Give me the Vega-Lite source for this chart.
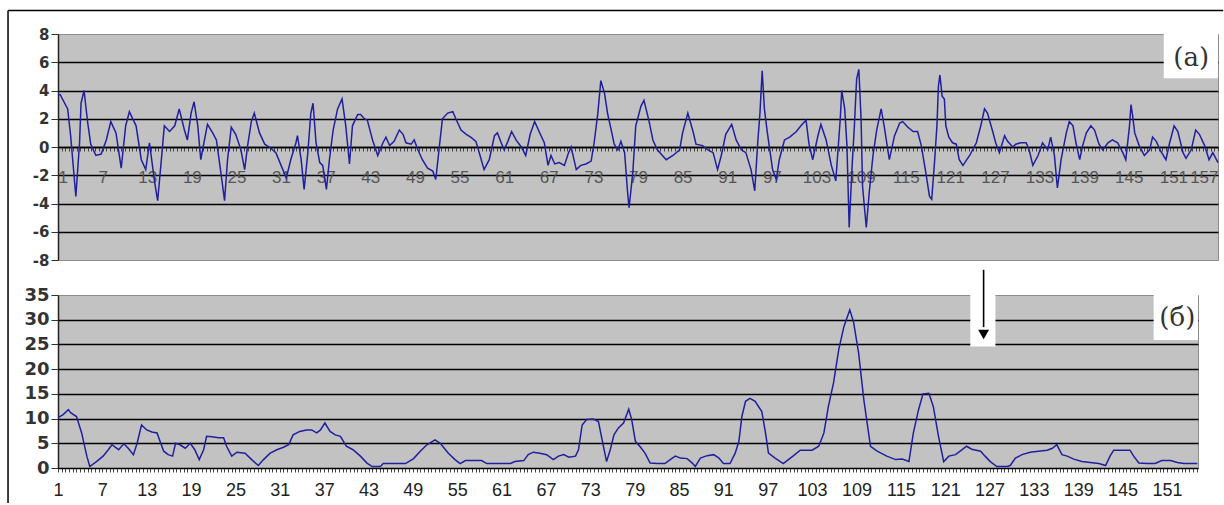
{
"$schema":"https://vega.github.io/schema/vega-lite/v6.json",
"padding":{"left":6,"top":9,"right":0,"bottom":0},
"background":"white",
"spacing":35,
"bounds":"flush",
"config":{"view":{"fill":"#c2c2c2","stroke":"#8c8c8c","strokeWidth":1}},
"datasets":{
"top":[{"x":1,"v":3.7},{"x":1.3,"v":3.7},{"x":2.3,"v":2.7},{"x":2.7,"v":0.8},{"x":3.4,"v":-3.5},{"x":3.9,"v":0.3},{"x":4.1,"v":3.1},{"x":4.5,"v":4.0},{"x":5.0,"v":1.7},{"x":5.4,"v":0.2},{"x":6.1,"v":-0.6},{"x":6.8,"v":-0.5},{"x":7.5,"v":0.5},{"x":8.1,"v":1.8},{"x":8.8,"v":1.0},{"x":9.5,"v":-1.5},{"x":10.1,"v":1.5},{"x":10.6,"v":2.5},{"x":11.5,"v":1.5},{"x":12.2,"v":-0.9},{"x":12.8,"v":-1.6},{"x":13.3,"v":0.3},{"x":14.0,"v":-2.5},{"x":14.4,"v":-3.8},{"x":14.9,"v":-0.9},{"x":15.3,"v":1.5},{"x":16.0,"v":1.1},{"x":16.7,"v":1.5},{"x":17.3,"v":2.7},{"x":18.0,"v":1.2},{"x":18.4,"v":0.5},{"x":18.9,"v":2.4},{"x":19.3,"v":3.2},{"x":19.8,"v":1.5},{"x":20.2,"v":-0.9},{"x":20.7,"v":0.5},{"x":21.1,"v":1.6},{"x":21.8,"v":1.0},{"x":22.3,"v":0.5},{"x":22.9,"v":-1.8},{"x":23.4,"v":-3.8},{"x":23.8,"v":-0.9},{"x":24.3,"v":1.4},{"x":24.9,"v":0.9},{"x":25.6,"v":-0.2},{"x":26.1,"v":-1.6},{"x":26.5,"v":0.1},{"x":27.0,"v":1.8},{"x":27.4,"v":2.4},{"x":28.1,"v":1.0},{"x":28.8,"v":0.2},{"x":29.4,"v":0.0},{"x":30.3,"v":-0.4},{"x":31.0,"v":-1.3},{"x":31.7,"v":-2.2},{"x":32.3,"v":-0.9},{"x":33.0,"v":0.3},{"x":33.2,"v":0.8},{"x":33.7,"v":-0.9},{"x":34.1,"v":-3.0},{"x":34.6,"v":-0.4},{"x":35.0,"v":2.4},{"x":35.3,"v":3.1},{"x":35.7,"v":0.3},{"x":36.2,"v":-1.1},{"x":36.6,"v":-1.3},{"x":37.1,"v":-3.0},{"x":37.5,"v":-0.9},{"x":38.0,"v":1.2},{"x":38.6,"v":2.7},{"x":39.2,"v":3.4},{"x":39.7,"v":1.5},{"x":40.2,"v":-1.2},{"x":40.6,"v":1.5},{"x":41.3,"v":2.3},{"x":41.7,"v":2.3},{"x":42.2,"v":2.0},{"x":42.6,"v":1.9},{"x":43.3,"v":0.5},{"x":44.0,"v":-0.6},{"x":44.7,"v":0.3},{"x":45.1,"v":0.7},{"x":45.6,"v":0.1},{"x":46.2,"v":0.4},{"x":46.9,"v":1.2},{"x":47.4,"v":0.9},{"x":47.8,"v":0.3},{"x":48.5,"v":0.2},{"x":48.9,"v":0.5},{"x":49.4,"v":-0.2},{"x":50.0,"v":-0.9},{"x":50.7,"v":-1.5},{"x":51.4,"v":-1.7},{"x":51.8,"v":-2.3},{"x":52.3,"v":0.1},{"x":52.7,"v":2.0},{"x":53.4,"v":2.4},{"x":54.1,"v":2.5},{"x":54.5,"v":2.0},{"x":55.2,"v":1.2},{"x":55.9,"v":0.9},{"x":56.5,"v":0.7},{"x":57.2,"v":0.4},{"x":57.7,"v":-0.5},{"x":58.3,"v":-1.6},{"x":59.0,"v":-0.9},{"x":59.7,"v":0.8},{"x":60.1,"v":1.0},{"x":60.6,"v":0.3},{"x":61.0,"v":-0.2},{"x":61.5,"v":0.4},{"x":62.0,"v":1.1},{"x":62.6,"v":0.5},{"x":63.3,"v":0.0},{"x":63.9,"v":-0.6},{"x":64.5,"v":0.9},{"x":65.1,"v":1.8},{"x":65.7,"v":1.1},{"x":66.4,"v":0.3},{"x":66.9,"v":-1.3},{"x":67.3,"v":-0.6},{"x":67.8,"v":-1.2},{"x":68.4,"v":-1.1},{"x":69.1,"v":-1.3},{"x":69.6,"v":-0.5},{"x":70.0,"v":0.0},{"x":70.7,"v":-1.6},{"x":71.3,"v":-1.3},{"x":72.0,"v":-1.2},{"x":72.7,"v":-1.0},{"x":73.1,"v":0.3},{"x":73.6,"v":2.4},{"x":74.0,"v":4.7},{"x":74.5,"v":3.8},{"x":74.9,"v":2.4},{"x":75.4,"v":1.2},{"x":75.8,"v":0.2},{"x":76.3,"v":-0.2},{"x":76.7,"v":0.4},{"x":77.2,"v":-0.4},{"x":77.6,"v":-3.2},{"x":77.8,"v":-4.3},{"x":78.3,"v":-1.8},{"x":78.7,"v":1.5},{"x":79.4,"v":2.9},{"x":79.8,"v":3.3},{"x":80.5,"v":1.8},{"x":81.0,"v":0.5},{"x":81.6,"v":-0.2},{"x":82.8,"v":-0.9},{"x":83.7,"v":-0.6},{"x":84.6,"v":-0.2},{"x":85.0,"v":1.0},{"x":85.7,"v":2.4},{"x":86.4,"v":1.1},{"x":86.8,"v":0.2},{"x":87.7,"v":0.1},{"x":88.4,"v":-0.2},{"x":89.1,"v":-0.4},{"x":89.7,"v":-1.6},{"x":90.2,"v":-0.6},{"x":90.8,"v":0.9},{"x":91.6,"v":1.6},{"x":92.2,"v":0.5},{"x":92.9,"v":-0.2},{"x":93.5,"v":-0.4},{"x":94.2,"v":-1.6},{"x":94.7,"v":-3.1},{"x":95.1,"v":0.3},{"x":95.4,"v":2.4},{"x":95.7,"v":5.4},{"x":96.0,"v":2.7},{"x":96.4,"v":1.0},{"x":97.1,"v":-1.6},{"x":97.6,"v":-2.3},{"x":98.0,"v":-0.9},{"x":98.7,"v":0.5},{"x":99.4,"v":0.7},{"x":100.3,"v":1.1},{"x":100.9,"v":1.5},{"x":101.6,"v":1.9},{"x":102.0,"v":0.2},{"x":102.5,"v":-0.9},{"x":103.2,"v":0.8},{"x":103.6,"v":1.6},{"x":104.3,"v":0.5},{"x":105.0,"v":-1.3},{"x":105.6,"v":-2.4},{"x":106.2,"v":2.0},{"x":106.4,"v":4.0},{"x":106.8,"v":2.7},{"x":107.1,"v":0.1},{"x":107.4,"v":-5.7},{"x":107.8,"v":-1.3},{"x":108.1,"v":1.5},{"x":108.4,"v":4.8},{"x":108.7,"v":5.5},{"x":109.0,"v":2.0},{"x":109.2,"v":-2.8},{"x":109.7,"v":-5.7},{"x":110.1,"v":-3.2},{"x":110.6,"v":-0.6},{"x":111.1,"v":1.2},{"x":111.7,"v":2.7},{"x":112.1,"v":1.5},{"x":112.8,"v":-0.9},{"x":113.5,"v":0.8},{"x":114.2,"v":1.7},{"x":114.6,"v":1.8},{"x":115.3,"v":1.4},{"x":116.0,"v":1.1},{"x":116.6,"v":1.1},{"x":117.1,"v":0.1},{"x":117.7,"v":-1.8},{"x":118.2,"v":-3.5},{"x":118.5,"v":-3.7},{"x":118.9,"v":-0.9},{"x":119.2,"v":1.5},{"x":119.4,"v":4.3},{"x":119.6,"v":5.1},{"x":119.9,"v":3.6},{"x":120.2,"v":3.4},{"x":120.4,"v":1.5},{"x":120.8,"v":0.7},{"x":121.3,"v":0.3},{"x":121.8,"v":0.2},{"x":122.2,"v":-0.9},{"x":122.7,"v":-1.3},{"x":123.6,"v":-0.6},{"x":124.5,"v":0.3},{"x":125.1,"v":1.5},{"x":125.6,"v":2.7},{"x":126.0,"v":2.4},{"x":126.7,"v":1.1},{"x":127.1,"v":0.3},{"x":127.6,"v":-0.4},{"x":128.3,"v":0.8},{"x":128.7,"v":0.4},{"x":129.4,"v":0.0},{"x":129.8,"v":0.2},{"x":130.5,"v":0.3},{"x":131.2,"v":0.3},{"x":131.6,"v":-0.2},{"x":132.1,"v":-1.3},{"x":132.8,"v":-0.6},{"x":133.4,"v":0.3},{"x":134.1,"v":-0.2},{"x":134.5,"v":0.7},{"x":135.0,"v":-0.6},{"x":135.4,"v":-2.9},{"x":135.9,"v":-0.9},{"x":136.6,"v":1.0},{"x":137.0,"v":1.8},{"x":137.5,"v":1.5},{"x":137.9,"v":0.3},{"x":138.4,"v":-0.9},{"x":138.8,"v":0.1},{"x":139.3,"v":1.0},{"x":139.9,"v":1.5},{"x":140.4,"v":1.2},{"x":141.0,"v":0.2},{"x":141.5,"v":-0.2},{"x":142.2,"v":0.3},{"x":142.8,"v":0.5},{"x":143.5,"v":0.3},{"x":144.2,"v":-0.4},{"x":144.6,"v":-0.9},{"x":145.1,"v":1.5},{"x":145.3,"v":3.0},{"x":145.5,"v":2.3},{"x":145.8,"v":1.0},{"x":146.4,"v":0.1},{"x":147.1,"v":-0.6},{"x":147.8,"v":-0.2},{"x":148.2,"v":0.7},{"x":148.7,"v":0.4},{"x":149.3,"v":-0.3},{"x":150.0,"v":-0.9},{"x":150.5,"v":0.3},{"x":151.1,"v":1.5},{"x":151.6,"v":1.1},{"x":152.3,"v":-0.4},{"x":152.7,"v":-0.8},{"x":153.4,"v":-0.2},{"x":154.0,"v":1.2},{"x":154.5,"v":0.9},{"x":155.2,"v":0.1},{"x":155.8,"v":-0.9},{"x":156.3,"v":-0.4},{"x":157.0,"v":-1.1}],
"bot":[{"x":1,"v":10.2},{"x":1.7,"v":10.8},{"x":2.4,"v":11.8},{"x":2.7,"v":11.2},{"x":3.5,"v":10.4},{"x":4.2,"v":7.1},{"x":4.9,"v":2.4},{"x":5.3,"v":0.3},{"x":6.2,"v":1.3},{"x":7.1,"v":2.4},{"x":7.8,"v":3.7},{"x":8.3,"v":4.7},{"x":9.2,"v":3.7},{"x":9.9,"v":4.9},{"x":10.5,"v":4.0},{"x":11.2,"v":2.7},{"x":11.7,"v":5.0},{"x":12.3,"v":8.7},{"x":13.0,"v":7.7},{"x":13.7,"v":7.3},{"x":14.4,"v":7.1},{"x":14.8,"v":5.4},{"x":15.3,"v":3.4},{"x":15.9,"v":2.7},{"x":16.5,"v":2.4},{"x":16.9,"v":5.0},{"x":17.5,"v":4.7},{"x":18.2,"v":4.0},{"x":18.9,"v":5.0},{"x":19.5,"v":3.7},{"x":20.1,"v":1.7},{"x":20.7,"v":3.7},{"x":21.1,"v":6.4},{"x":21.8,"v":6.3},{"x":22.7,"v":6.1},{"x":23.4,"v":6.1},{"x":23.8,"v":4.4},{"x":24.5,"v":2.4},{"x":25.2,"v":3.2},{"x":26.3,"v":3.0},{"x":27.2,"v":1.7},{"x":28.1,"v":0.5},{"x":28.8,"v":1.7},{"x":29.7,"v":3.0},{"x":30.6,"v":3.7},{"x":31.5,"v":4.2},{"x":32.2,"v":4.7},{"x":32.8,"v":6.7},{"x":33.7,"v":7.4},{"x":34.6,"v":7.7},{"x":35.3,"v":7.7},{"x":36.0,"v":7.1},{"x":36.5,"v":7.7},{"x":37.1,"v":9.1},{"x":37.8,"v":7.4},{"x":38.5,"v":6.7},{"x":39.2,"v":6.4},{"x":40.0,"v":4.4},{"x":40.9,"v":3.7},{"x":41.9,"v":2.4},{"x":42.8,"v":1.0},{"x":43.5,"v":0.3},{"x":44.6,"v":0.3},{"x":45.0,"v":0.9},{"x":46.2,"v":0.9},{"x":48.0,"v":0.9},{"x":49.1,"v":1.9},{"x":50.0,"v":3.4},{"x":50.9,"v":4.7},{"x":52.0,"v":5.7},{"x":52.7,"v":5.0},{"x":53.8,"v":3.0},{"x":54.7,"v":1.7},{"x":55.4,"v":0.9},{"x":56.1,"v":1.5},{"x":57.2,"v":1.5},{"x":58.3,"v":1.5},{"x":59.0,"v":0.9},{"x":60.4,"v":0.9},{"x":62.2,"v":0.9},{"x":62.8,"v":1.3},{"x":64.0,"v":1.5},{"x":64.6,"v":2.7},{"x":65.3,"v":3.2},{"x":66.2,"v":3.0},{"x":67.1,"v":2.7},{"x":68.0,"v":1.7},{"x":68.7,"v":2.4},{"x":69.4,"v":2.7},{"x":70.1,"v":2.2},{"x":71.0,"v":2.4},{"x":71.4,"v":3.7},{"x":71.9,"v":8.7},{"x":72.5,"v":9.8},{"x":73.4,"v":9.9},{"x":74.1,"v":9.4},{"x":74.6,"v":5.7},{"x":75.2,"v":1.3},{"x":75.7,"v":3.7},{"x":76.2,"v":6.7},{"x":76.8,"v":8.1},{"x":77.5,"v":9.1},{"x":78.2,"v":11.9},{"x":78.6,"v":9.8},{"x":79.1,"v":5.4},{"x":79.8,"v":4.2},{"x":80.4,"v":3.0},{"x":81.1,"v":1.0},{"x":82.0,"v":0.9},{"x":83.1,"v":0.9},{"x":83.8,"v":1.7},{"x":84.5,"v":2.4},{"x":85.2,"v":2.0},{"x":86.1,"v":1.9},{"x":86.8,"v":1.0},{"x":87.2,"v":0.3},{"x":87.9,"v":2.0},{"x":88.8,"v":2.5},{"x":89.7,"v":2.7},{"x":90.4,"v":2.0},{"x":91.0,"v":0.9},{"x":91.9,"v":0.9},{"x":92.6,"v":3.0},{"x":93.1,"v":5.4},{"x":93.5,"v":10.4},{"x":94.0,"v":13.5},{"x":94.6,"v":14.1},{"x":95.3,"v":13.5},{"x":96.2,"v":11.4},{"x":96.7,"v":7.1},{"x":97.1,"v":3.0},{"x":98.0,"v":2.0},{"x":99.1,"v":0.9},{"x":99.8,"v":1.7},{"x":100.5,"v":2.5},{"x":101.4,"v":3.6},{"x":103.0,"v":3.6},{"x":103.9,"v":4.4},{"x":104.6,"v":7.1},{"x":105.2,"v":12.4},{"x":105.9,"v":17.2},{"x":106.6,"v":23.9},{"x":107.3,"v":28.6},{"x":108.1,"v":32.0},{"x":108.6,"v":29.6},{"x":109.3,"v":23.2},{"x":110.0,"v":13.8},{"x":110.9,"v":4.4},{"x":111.8,"v":3.4},{"x":113.1,"v":2.4},{"x":114.3,"v":1.7},{"x":115.2,"v":1.8},{"x":116.1,"v":1.3},{"x":116.7,"v":7.1},{"x":117.4,"v":11.8},{"x":118.0,"v":15.0},{"x":118.8,"v":15.1},{"x":119.4,"v":12.4},{"x":120.1,"v":6.4},{"x":120.8,"v":1.3},{"x":121.5,"v":2.4},{"x":122.4,"v":2.7},{"x":123.3,"v":3.7},{"x":123.9,"v":4.4},{"x":124.6,"v":3.8},{"x":125.8,"v":3.4},{"x":126.4,"v":2.4},{"x":127.1,"v":1.3},{"x":128.0,"v":0.3},{"x":129.4,"v":0.3},{"x":129.8,"v":0.5},{"x":130.5,"v":2.0},{"x":131.4,"v":2.7},{"x":132.5,"v":3.2},{"x":133.6,"v":3.4},{"x":134.8,"v":3.6},{"x":135.5,"v":4.0},{"x":136.1,"v":4.7},{"x":136.8,"v":2.7},{"x":137.5,"v":2.4},{"x":138.4,"v":1.8},{"x":139.5,"v":1.3},{"x":140.6,"v":1.1},{"x":141.8,"v":0.9},{"x":142.7,"v":0.5},{"x":143.3,"v":2.4},{"x":143.8,"v":3.6},{"x":144.9,"v":3.6},{"x":146.0,"v":3.6},{"x":146.5,"v":2.4},{"x":147.2,"v":1.0},{"x":148.3,"v":0.9},{"x":149.4,"v":0.9},{"x":150.3,"v":1.5},{"x":151.5,"v":1.5},{"x":152.4,"v":1.1},{"x":153.3,"v":0.9},{"x":155.1,"v":0.9}],
"frame":[{"x1":-5.72,"x2":157.7,"y1":9.66,"y2":9.66},{"x1":-5.72,"x2":-5.72,"y1":9.66,"y2":-25.2}],
"tagA":[{"x1":149.7,"x2":157,"y1":8,"y2":4.86,"tx":153.4,"ty":6.27,"label":"(a)"}],
"tagB":[{"x1":149.2,"x2":155.2,"y1":35,"y2":25.9,"tx":152.4,"ty":30.4,"label":"(б)"}],
"gap":[{"x1":124.4,"x2":127.8,"y1":35,"y2":24.6}],
"arrow":[{"ax":126.2,"ay1":40.1,"ay2":28.5,"hy":27.0}]
},
"vconcat":[
{"width":1160,"height":226,
"layer":[
{"data":{"name":"top"},"mark":{"type":"line","color":"#20209e","strokeWidth":1.5},
"encoding":{
"x":{"field":"x","type":"quantitative","scale":{"domain":[1,157],"nice":false,"zero":false},
"axis":{"orient":"bottom","offset":-113,"tickCount":312,"labelExpr":"(datum.value - 1) % 6 == 0 ? datum.value : ''","labelOverlap":false,"labelFlush":true,"labelFont":"Liberation Sans","labelFontSize":17,"labelColor":"#555","labelPadding":18,"tickSize":4,"tickColor":"#444","tickWidth":1,"domainColor":"black","domainWidth":1.6,"grid":false,"title":null}},
"y":{"field":"v","type":"quantitative","scale":{"domain":[-8,8],"nice":false,"zero":false},
"axis":{"tickCount":8,"labelOverlap":false,"labelExpr":"datum.value","labelFont":"DejaVu Sans","labelFontWeight":"bold","labelFontSize":15,"labelColor":"#333","labelPadding":2,"tickSize":7,"tickColor":"#333","domainColor":"#222","domainWidth":1.5,"grid":true,"gridColor":{"condition":{"test":"abs(datum.value) == 8","value":"transparent"},"value":"black"},"gridWidth":1.6,"title":null}}}},
{"data":{"name":"frame"},"mark":{"type":"rule","color":"black","strokeWidth":1.5},
"encoding":{"x":{"field":"x1","type":"quantitative"},"x2":{"field":"x2"},"y":{"field":"y1","type":"quantitative"},"y2":{"field":"y2"}}},
{"data":{"name":"tagA"},"mark":{"type":"rect","color":"white"},
"encoding":{"x":{"field":"x1","type":"quantitative"},"x2":{"field":"x2"},"y":{"field":"y1","type":"quantitative"},"y2":{"field":"y2"}}},
{"data":{"name":"tagA"},"mark":{"type":"text","font":"DejaVu Serif","fontSize":26,"color":"#333"},
"encoding":{"x":{"field":"tx","type":"quantitative"},"y":{"field":"ty","type":"quantitative"},"text":{"field":"label"}}}
]},
{"width":1140,"height":173,
"layer":[
{"data":{"name":"bot"},"mark":{"type":"line","color":"#20209e","strokeWidth":1.5},
"encoding":{
"x":{"field":"x","type":"quantitative","scale":{"domain":[1,155.2],"nice":false,"zero":false},
"axis":{"tickCount":308,"labelExpr":"(datum.value - 1) % 6 == 0 ? datum.value : ''","labelOverlap":false,"labelFlush":false,"labelFont":"Liberation Sans","labelFontSize":18,"labelColor":"#222","labelPadding":9,"tickSize":4,"tickColor":"#444","tickWidth":1,"domainColor":"black","domainWidth":1.6,"grid":false,"title":null}},
"y":{"field":"v","type":"quantitative","scale":{"domain":[0,35],"nice":false,"zero":false},
"axis":{"tickCount":7,"labelOverlap":false,"labelFont":"DejaVu Sans","labelFontWeight":"bold","labelFontSize":18,"labelColor":"#333","labelPadding":2,"tickSize":7,"tickColor":"#333","domainColor":"#222","domainWidth":1.5,"grid":true,"gridColor":{"condition":{"test":"datum.value == 0 || datum.value == 35","value":"transparent"},"value":"black"},"gridWidth":1.6,"title":null}}}},
{"data":{"name":"tagB"},"mark":{"type":"rect","color":"white"},
"encoding":{"x":{"field":"x1","type":"quantitative"},"x2":{"field":"x2"},"y":{"field":"y1","type":"quantitative"},"y2":{"field":"y2"}}},
{"data":{"name":"tagB"},"mark":{"type":"text","font":"DejaVu Serif","fontSize":26,"color":"#333"},
"encoding":{"x":{"field":"tx","type":"quantitative"},"y":{"field":"ty","type":"quantitative"},"text":{"field":"label"}}},
{"data":{"name":"gap"},"mark":{"type":"rect","color":"white"},
"encoding":{"x":{"field":"x1","type":"quantitative"},"x2":{"field":"x2"},"y":{"field":"y1","type":"quantitative"},"y2":{"field":"y2"}}},
{"data":{"name":"arrow"},"mark":{"type":"rule","color":"black","strokeWidth":1.6},
"encoding":{"x":{"field":"ax","type":"quantitative"},"y":{"field":"ay1","type":"quantitative"},"y2":{"field":"ay2"}}},
{"data":{"name":"arrow"},"mark":{"type":"point","shape":"triangle-down","filled":true,"color":"black","size":120,"opacity":1},
"encoding":{"x":{"field":"ax","type":"quantitative"},"y":{"field":"hy","type":"quantitative"}}}
]}
]}
